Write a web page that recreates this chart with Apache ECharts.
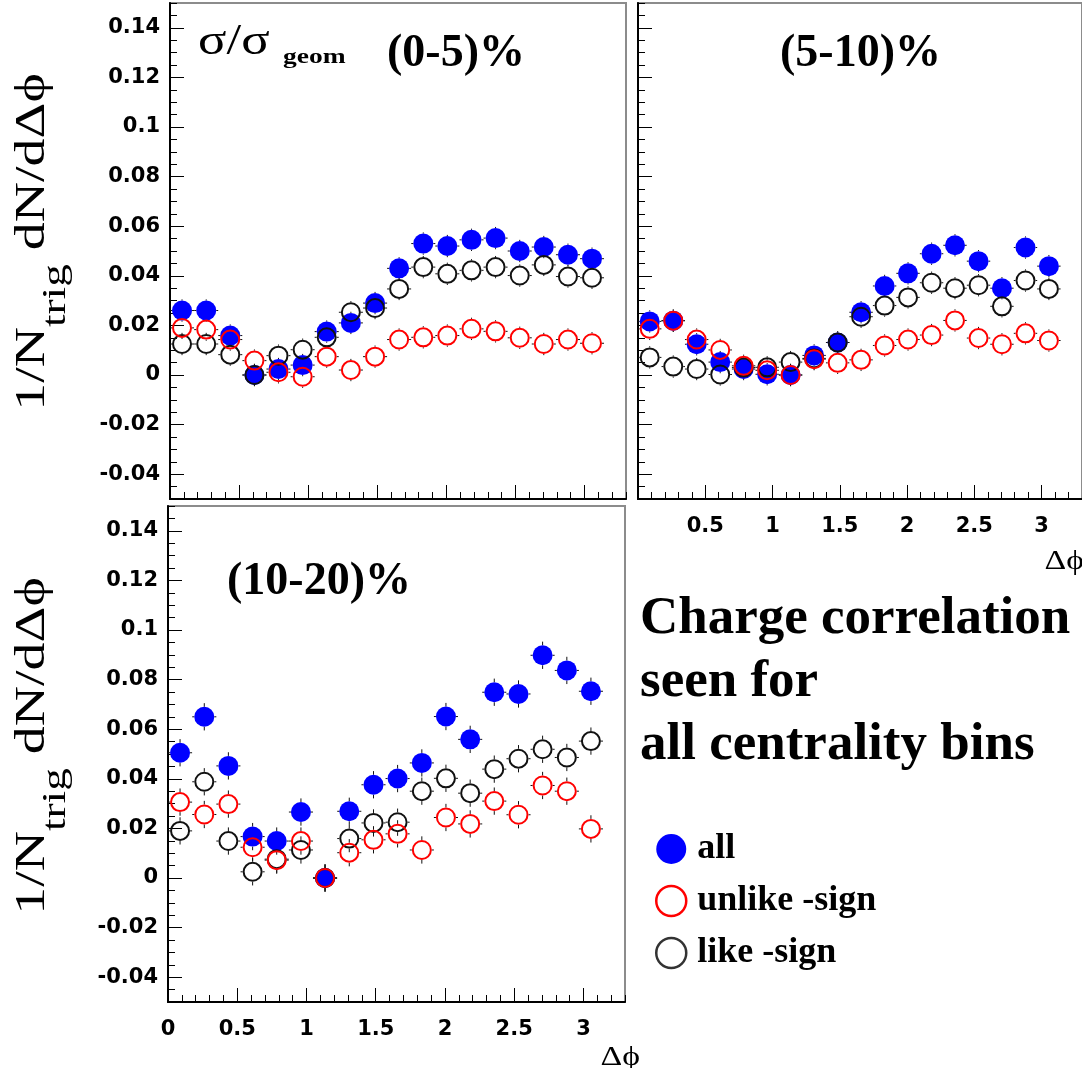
<!DOCTYPE html>
<html>
<head>
<meta charset="utf-8">
<script src="https://cdn.jsdelivr.net/npm/echarts@6/dist/echarts.min.js"></script>
<style>
  html, body { margin: 0; padding: 0; background: #fff; }
  #chart { width: 1082px; height: 1068px; }
</style>
</head>
<body>
<div id="chart"></div>
<script>
// Δφ bin centres (18 bins over 0..π) and half bin width
const dphi = [0.087, 0.262, 0.436, 0.611, 0.785, 0.960, 1.134, 1.309, 1.484,
              1.658, 1.833, 2.007, 2.182, 2.356, 2.531, 2.705, 2.880, 3.054];
const binHalfWidth = 0.087;

// centrality (0-5)%
const c0_5_all    = [0.0260, 0.0260, 0.0159, 0.0000, 0.0024, 0.0040, 0.0175, 0.0210, 0.0290,
                     0.0430, 0.0530, 0.0520, 0.0545, 0.0552, 0.0500, 0.0516, 0.0485, 0.0469];
const c0_5_unlike = [0.0190, 0.0183, 0.0143, 0.0058, 0.0011, -0.0007, 0.0074, 0.0020, 0.0074,
                     0.0143, 0.0152, 0.0159, 0.0186, 0.0176, 0.0150, 0.0125, 0.0143, 0.0128];
const c0_5_like   = [0.0125, 0.0125, 0.0082, 0.0000, 0.0078, 0.0102, 0.0152, 0.0253, 0.0270,
                     0.0347, 0.0435, 0.0408, 0.0422, 0.0435, 0.0401, 0.0444, 0.0397, 0.0392];

// centrality (5-10)%
const c5_10_all    = [0.0216, 0.0219, 0.0124, 0.0052, 0.0024, 0.0003, 0.0000, 0.0079, 0.0131,
                      0.0253, 0.0359, 0.0410, 0.0489, 0.0523, 0.0459, 0.0350, 0.0514, 0.0439];
const c5_10_unlike = [0.0186, 0.0219, 0.0143, 0.0101, 0.0037, 0.0019, 0.0000, 0.0064, 0.0049,
                      0.0061, 0.0119, 0.0143, 0.0161, 0.0220, 0.0149, 0.0124, 0.0168, 0.0139];
const c5_10_like   = [0.0071, 0.0034, 0.0024, 0.0002, 0.0030, 0.0031, 0.0052, 0.0067, 0.0131,
                      0.0235, 0.0280, 0.0313, 0.0372, 0.0350, 0.0362, 0.0277, 0.0381, 0.0347];

// centrality (10-20)%
const c10_20_all    = [0.0505, 0.0650, 0.0452, 0.0167, 0.0149, 0.0266, 0.0000, 0.0269, 0.0376,
                       0.0401, 0.0464, 0.0651, 0.0559, 0.0749, 0.0742, 0.0898, 0.0837, 0.0753];
const c10_20_unlike = [0.0306, 0.0256, 0.0298, 0.0124, 0.0072, 0.0149, 0.0000, 0.0102, 0.0154,
                       0.0178, 0.0113, 0.0244, 0.0218, 0.0310, 0.0255, 0.0373, 0.0350, 0.0198];
const c10_20_like   = [0.0190, 0.0388, 0.0149, 0.0025, 0.0076, 0.0113, 0.0000, 0.0159, 0.0222,
                       0.0225, 0.0350, 0.0402, 0.0342, 0.0439, 0.0481, 0.0519, 0.0486, 0.0552];

// statistical error per panel
const yErrTop = 0.0045;
const yErrBottom = 0.0055;

// axis ticks
const xMajorTicks = [0, 0.5, 1, 1.5, 2, 2.5, 3];
const xMajorTicksNoZero = [0.5, 1, 1.5, 2, 2.5, 3];
const yMajorTicks = [-0.04, -0.02, 0, 0.02, 0.04, 0.06, 0.08, 0.1, 0.12, 0.14];

const panelTitles = ['(0-5)%', '(5-10)%', '(10-20)%'];
const seriesNames = ['all', 'unlike -sign', 'like -sign'];

const X_MIN = 0, X_MAX = 3.3, Y_MIN = -0.05, Y_MAX = 0.15;
const tickFont = { fontFamily: 'DejaVu Sans', fontWeight: 'bold', fontSize: 21, color: '#000' };
const fmt = v => String(+(+v).toFixed(3));

const panels = [
  { grid: { left: 170, top: 3, width: 456, height: 496 }, sets: [c0_5_all, c0_5_unlike, c0_5_like],
    yErr: yErrTop, xLabels: null, yLabels: true },
  { grid: { left: 638, top: 3, width: 456, height: 496 }, sets: [c5_10_all, c5_10_unlike, c5_10_like],
    yErr: yErrTop, xLabels: xMajorTicksNoZero, yLabels: false },
  { grid: { left: 168, top: 506, width: 457, height: 496 }, sets: [c10_20_all, c10_20_unlike, c10_20_like],
    yErr: yErrBottom, xLabels: xMajorTicks, yLabels: true }
];

// marker look per set; drawing order: all, like-sign, unlike-sign on top
const markerStyles = [
  { symbolSize: 20, z: 3, itemStyle: { color: '#0000ff', borderWidth: 0, opacity: 1 } },
  { symbolSize: 18, z: 5, itemStyle: { color: 'rgba(255,255,255,0)', borderColor: '#ff0000', borderWidth: 2, opacity: 1 } },
  { symbolSize: 18, z: 4, itemStyle: { color: 'rgba(255,255,255,0)', borderColor: '#111111', borderWidth: 2, opacity: 1 } }
];

// error bars drawn outside the marker, ROOT style
function errorBars(yErr, gap) {
  return function (params, api) {
    const x = api.value(0), y = api.value(1);
    const c = api.coord([x, y]);
    const l = api.coord([x - binHalfWidth, y])[0];
    const r = api.coord([x + binHalfWidth, y])[0];
    const t = api.coord([x, y + yErr])[1];
    const b = api.coord([x, y - yErr])[1];
    const style = { stroke: '#111', lineWidth: 1 };
    const segs = [];
    if (c[0] - gap > l) segs.push({ type: 'line', shape: { x1: l, y1: c[1], x2: c[0] - gap, y2: c[1] }, style });
    if (c[0] + gap < r) segs.push({ type: 'line', shape: { x1: c[0] + gap, y1: c[1], x2: r, y2: c[1] }, style });
    if (c[1] - gap > t) segs.push({ type: 'line', shape: { x1: c[0], y1: t, x2: c[0], y2: c[1] - gap }, style });
    if (c[1] + gap < b) segs.push({ type: 'line', shape: { x1: c[0], y1: c[1] + gap, x2: c[0], y2: b }, style });
    return { type: 'group', children: segs };
  };
}

const grids = [], xAxes = [], yAxes = [], series = [];
panels.forEach((p, g) => {
  grids.push(Object.assign({ show: true, borderColor: '#8c8c8c', borderWidth: 2, backgroundColor: 'transparent' }, p.grid));
  // fine ticks + axis line
  xAxes.push({
    type: 'value', gridIndex: g, position: 'bottom', min: X_MIN, max: X_MAX, interval: 0.1,
    axisLine: { show: true, onZero: false, lineStyle: { color: '#000', width: 2 } },
    axisTick: { show: true, inside: true, length: 7, lineStyle: { color: '#000', width: 1 } },
    axisLabel: { show: false }, splitLine: { show: false }
  });
  // major ticks + labels
  xAxes.push({
    type: 'value', gridIndex: g, position: 'bottom', offset: 0, min: X_MIN, max: X_MAX,
    axisLine: { show: false, onZero: false },
    axisTick: { show: true, inside: true, length: 14, customValues: xMajorTicks, lineStyle: { color: '#000', width: 1 } },
    axisLabel: p.xLabels ? Object.assign({ show: true, customValues: p.xLabels, margin: 17, formatter: fmt }, tickFont)
                         : { show: false },
    splitLine: { show: false }
  });
  yAxes.push({
    type: 'value', gridIndex: g, position: 'left', min: Y_MIN, max: Y_MAX, interval: 0.005,
    axisLine: { show: true, onZero: false, lineStyle: { color: '#000', width: 2 } },
    axisTick: { show: true, inside: true, length: 7, lineStyle: { color: '#000', width: 1 } },
    axisLabel: { show: false }, splitLine: { show: false }
  });
  yAxes.push({
    type: 'value', gridIndex: g, position: 'left', offset: 0, min: Y_MIN, max: Y_MAX,
    axisLine: { show: false, onZero: false },
    axisTick: { show: true, inside: true, length: 14, customValues: yMajorTicks, lineStyle: { color: '#000', width: 1 } },
    axisLabel: p.yLabels ? Object.assign({ show: true, customValues: yMajorTicks, margin: 10, formatter: fmt }, tickFont)
                         : { show: false },
    splitLine: { show: false }
  });

  p.sets.forEach((vals, k) => {
    const data = dphi.map((x, i) => [x, vals[i]]);
    series.push({
      type: 'custom', name: seriesNames[k] + ' err', xAxisIndex: 2 * g, yAxisIndex: 2 * g,
      renderItem: errorBars(p.yErr, 10), data, z: 1, silent: true,
      encode: { x: 0, y: 1 }
    });
    series.push(Object.assign({
      type: 'scatter', name: seriesNames[k], xAxisIndex: 2 * g, yAxisIndex: 2 * g,
      symbol: 'circle', data, silent: true
    }, markerStyles[k]));
  });
});

const serif = 'Liberation Serif, Times New Roman, serif';
const titleStyle = { fontFamily: serif, fontWeight: 'bold', fontSize: 46, fill: '#000', verticalAlign: 'bottom' };

function yTitle(cx, cy) {
  return {
    type: 'text', x: cx, y: cy, rotation: Math.PI / 2, scaleX: 1.33,
    style: {
      text: '{a|1/N}{b|trig}{a| dN/dΔϕ}',
      align: 'center', verticalAlign: 'middle', fill: '#000',
      rich: {
        a: { fontFamily: serif, fontSize: 42, fill: '#000' },
        b: { fontFamily: serif, fontSize: 34, fill: '#000', padding: [46, 0, 0, 0] }
      }
    }
  };
}

const graphic = [
  yTitle(33, 242),
  yTitle(33, 746),
  { type: 'text', x: 198, y: 64, scaleX: 1.2,
    style: { text: 'σ/σ', fontFamily: serif, fontSize: 44, fill: '#000', verticalAlign: 'bottom' } },
  { type: 'text', x: 283, y: 68, scaleX: 1.25,
    style: { text: 'geom', fontFamily: serif, fontWeight: 'bold', fontSize: 22, fill: '#000', verticalAlign: 'bottom' } },
  { type: 'text', x: 387, y: 77, style: Object.assign({ text: panelTitles[0] }, titleStyle) },
  { type: 'text', x: 780, y: 77, style: Object.assign({ text: panelTitles[1] }, titleStyle) },
  { type: 'text', x: 227, y: 605, style: Object.assign({ text: panelTitles[2] }, titleStyle) },
  { type: 'text', x: 640, y: 1058, scaleX: 1.25,
    style: { text: 'Δϕ', fontFamily: serif, fontSize: 27, fill: '#000', align: 'right', verticalAlign: 'middle' } },
  { type: 'text', x: 1084, y: 562, scaleX: 1.25,
    style: { text: 'Δϕ', fontFamily: serif, fontSize: 27, fill: '#000', align: 'right', verticalAlign: 'middle' } },
  { type: 'text', x: 640, y: 588,
    style: { text: 'Charge correlation\nseen for\nall centrality bins', fontFamily: serif, fontWeight: 'bold',
             fontSize: 53, lineHeight: 63, fill: '#000', verticalAlign: 'top' } }
];

const chart = echarts.init(document.getElementById('chart'), null, { renderer: 'canvas' });
chart.setOption({
  animation: false,
  backgroundColor: '#fff',
  grid: grids,
  xAxis: xAxes,
  yAxis: yAxes,
  legend: {
    orient: 'vertical', left: 650, top: 826, itemWidth: 30, itemHeight: 30, itemGap: 16,
    icon: 'circle', selectedMode: false,
    textStyle: { fontFamily: serif, fontWeight: 'bold', fontSize: 36, color: '#000', lineHeight: 32, padding: [0, 0, 0, 6] },
    data: [
      { name: seriesNames[0], itemStyle: { color: '#0000ff', borderWidth: 0, opacity: 1 } },
      { name: seriesNames[1], itemStyle: { color: 'rgba(255,255,255,0)', borderColor: '#ff0000', borderWidth: 2.5, opacity: 1 } },
      { name: seriesNames[2], itemStyle: { color: 'rgba(255,255,255,0)', borderColor: '#333', borderWidth: 2.5, opacity: 1 } }
    ]
  },
  graphic,
  series
});
</script>
</body>
</html>
